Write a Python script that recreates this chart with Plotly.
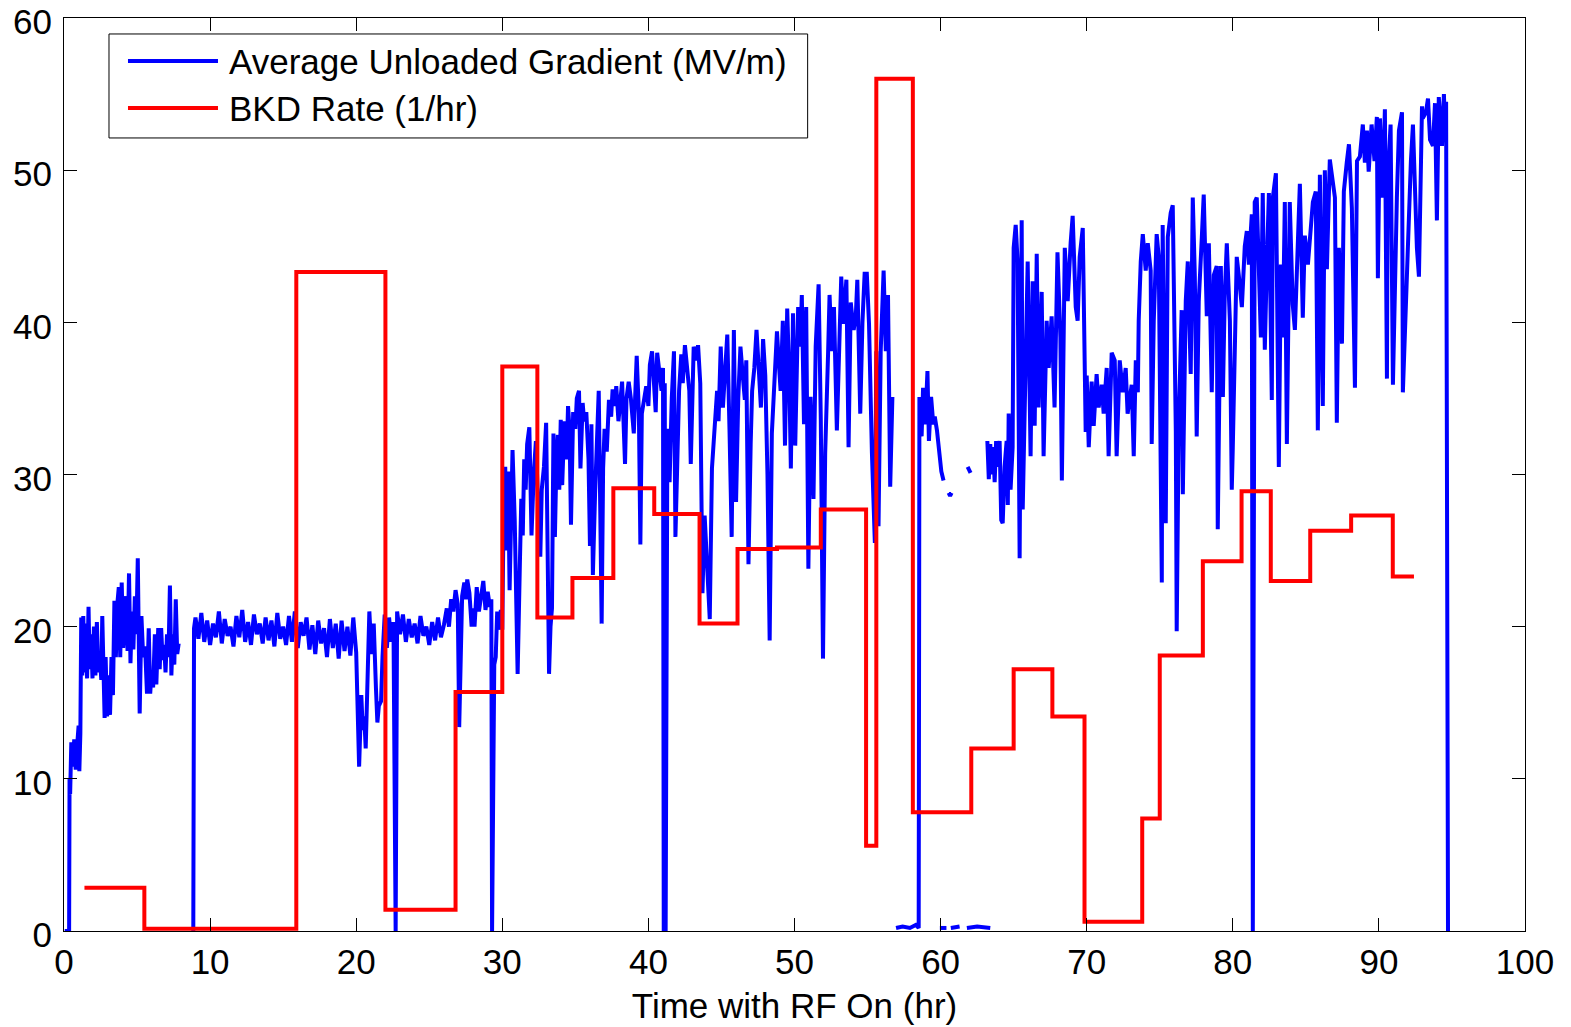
import plotly.graph_objects as go

# ---------------- data ----------------
# Average unloaded gradient (MV/m) vs time with RF on (hr), in pieces
grad_t_1 = [0.05, 0.35, 0.38, 0.42, 0.5, 0.6, 0.7, 0.8, 0.9, 1.0, 1.05, 1.12, 1.18, 1.25, 1.32, 1.4, 1.5, 1.58, 1.68, 1.76,
            1.85, 1.95, 2.05, 2.15, 2.25, 2.35, 2.45, 2.55, 2.62, 2.7, 2.78, 2.85, 2.95, 3.05, 3.15, 3.25, 3.35, 3.45, 3.55, 3.65,
            3.75, 3.85, 3.95, 4.05, 4.15, 4.25, 4.35, 4.45, 4.55, 4.65, 4.75, 4.85, 4.95, 5.05, 5.18, 5.3, 5.42, 5.55, 5.68, 5.8,
            5.9, 6.0, 6.1, 6.22, 6.32, 6.45, 6.55, 6.65, 6.75, 6.85, 6.95, 7.05, 7.15, 7.25, 7.35, 7.45, 7.55, 7.65, 7.75, 7.85]
grad_v_1 = [0, 0, 10.0, 9.0, 12.4, 10.8, 12.6, 10.6, 12.2, 13.5, 10.5, 13.0, 20.6, 16.8, 20.7, 17.0, 20.2, 16.6, 21.3, 17.2,
            19.5, 16.6, 20.0, 16.8, 20.3, 17.0, 18.3, 16.5, 20.7, 17.0, 14.0, 18.0, 14.1, 16.8, 14.2, 18.0, 15.5, 21.7, 18.0, 21.5,
            22.6, 18.0, 22.9, 18.6, 21.0, 22.0, 18.4, 23.5, 17.6, 21.0, 18.5, 22.0, 19.5, 24.5, 14.3, 20.7, 18.0, 18.7, 15.6, 19.9,
            15.6, 17.1, 16.0, 19.5, 16.2, 19.9, 17.2, 19.9, 17.8, 18.8, 17.0, 19.5, 18.0, 22.7, 16.8, 19.5, 17.5, 21.8, 18.2, 18.9]

grad_t_2a = [8.85, 8.9, 9.0, 9.2, 9.4, 9.6, 9.8, 10.0, 10.2, 10.4, 10.6, 10.8, 11.0, 11.2, 11.4, 11.6, 11.8, 12.0, 12.2, 12.4,
             12.6, 12.8, 13.0, 13.2, 13.4, 13.6, 13.8, 14.0, 14.2, 14.4, 14.6, 14.8, 15.0, 15.2, 15.4, 15.6, 15.8, 16.0, 16.2, 16.4,
             16.6, 16.8, 17.0, 17.2, 17.4, 17.6, 17.8, 18.0, 18.2, 18.4, 18.6, 18.8, 19.0, 19.2, 19.4, 19.6, 19.8, 20.0]
grad_v_2a = [0, 19.9, 20.6, 19.2, 20.9, 19.0, 20.4, 18.8, 20.2, 19.3, 21.0, 18.9, 20.5, 19.4, 20.0, 18.7, 20.7, 19.3, 21.1, 19.0,
             20.3, 18.8, 20.8, 19.5, 20.2, 18.9, 20.6, 19.1, 20.4, 18.7, 20.9, 19.2, 20.0, 18.8, 20.7, 19.0, 21.0, 18.6, 20.3, 19.4,
             20.6, 18.5, 20.1, 18.2, 20.4, 18.9, 19.9, 18.0, 20.5, 18.6, 20.2, 17.9, 20.4, 18.4, 20.0, 18.1, 20.6, 18.3]

grad_t_2b = [20.2, 20.35, 20.45, 20.55, 20.65, 20.75, 20.9, 21.05, 21.2, 21.35, 21.45, 21.55, 21.7, 21.8, 21.95, 22.1, 22.25,
             22.4, 22.55, 22.7, 22.8]
grad_v_2b = [10.8, 15.5, 13.2, 14.1, 12.0, 16.5, 21.0, 18.2, 20.2, 16.0, 13.7, 14.8, 15.1, 18.0, 20.8, 18.6, 20.6,
             19.0, 20.3, 0, 21.0]

grad_t_2c = [23.0, 23.2, 23.4, 23.6, 23.8, 24.0, 24.2, 24.4, 24.6, 24.8, 25.0, 25.2, 25.4, 25.6, 25.8, 26.0, 26.2, 26.35, 26.5,
             26.65, 26.8, 26.95, 27.05, 27.15, 27.25, 27.4, 27.5, 27.6, 27.75, 27.9, 28.0, 28.1, 28.25, 28.4, 28.55, 28.7, 28.85,
             29.0, 29.15, 29.25, 29.3, 29.45, 29.55, 29.65, 29.8, 29.9, 30.0]
grad_v_2c = [19.5, 20.8, 19.0, 20.5, 19.3, 20.2, 18.9, 20.7, 19.4, 20.0, 18.8, 20.3, 19.1, 20.6, 19.3, 20.1, 21.2, 20.0, 21.8,
             21.0, 22.4, 21.5, 13.4, 16.7, 22.0, 22.9, 21.8, 23.1, 22.2, 20.0, 21.2, 20.0, 22.6, 21.0, 22.2, 23.0, 21.1,
             22.3, 21.3, 21.8, 0, 17.5, 18.0, 21.0, 19.8, 21.1, 19.8]

grad_t_2d = [30.1, 30.2, 30.3, 30.4, 30.5, 30.6, 30.7, 30.85, 30.95, 31.05, 31.2, 31.3, 31.4, 31.5, 31.6, 31.7, 31.85, 32.0,
             32.15, 32.3, 32.45, 32.6, 32.7, 32.85, 33.0, 33.1, 33.2, 33.3, 33.4, 33.5, 33.6, 33.7, 33.8, 33.9, 34.0, 34.1, 34.25,
             34.4, 34.5, 34.6, 34.7, 34.85, 35.0, 35.1, 35.25, 35.35, 35.5, 35.6, 35.75, 35.9, 36.0, 36.1, 36.2, 36.35, 36.5,
             36.6, 36.7, 36.8, 36.9, 37.0, 37.15, 37.3, 37.45, 37.55, 37.7, 37.8, 37.95, 38.1, 38.2, 38.4, 38.5, 38.65, 38.8,
             39.0, 39.1, 39.2, 39.35, 39.45, 39.55, 39.7, 39.85, 40.0, 40.1, 40.25, 40.35, 40.5, 40.6, 40.75, 40.9, 41.0]
grad_v_2d = [28.6, 30.5, 25.0, 30.2, 22.4, 27.0, 31.6, 27.0, 23.1, 16.9, 24.0, 28.4, 26.0, 31.0, 29.0, 32.0, 33.1, 26.0,
             30.0, 32.2, 28.0, 24.6, 29.0, 30.5, 33.4, 25.0, 16.9, 20.0, 21.2, 32.7, 25.9, 30.7, 32.6, 29.0, 33.6, 29.3, 33.5,
             31.0, 34.5, 33.0, 26.7, 34.1, 33.0, 35.0, 35.5, 30.4, 34.7, 33.5, 34.1, 31.0, 25.3, 33.3, 23.4, 28.7, 33.0,
             35.5, 28.0, 20.2, 30.4, 33.0, 31.5, 34.9, 33.8, 35.6, 34.5, 35.8, 33.5, 35.5, 36.1, 30.7, 35.0, 36.1, 35.0,
             32.7, 36.0, 37.8, 34.0, 25.4, 34.0, 35.0, 35.8, 34.5, 37.2, 38.1, 36.0, 34.1, 38.0, 36.5, 35.5, 37.0]

grad_t_2e = [41.05, 41.12, 41.18, 41.3, 41.45, 41.6, 41.75, 41.85, 42.0, 42.1, 42.25, 42.35, 42.5, 42.65, 42.8, 42.9, 43.0,
             43.1, 43.25, 43.4, 43.55, 43.7, 43.85, 44.0, 44.2, 44.35, 44.5, 44.7, 44.8, 44.95, 45.1, 45.25, 45.4, 45.55, 45.7,
             45.85, 46.0, 46.15, 46.3, 46.45, 46.6, 46.7, 46.85, 47.0, 47.1, 47.25, 47.4, 47.55, 47.7, 47.85, 48.0, 48.15, 48.3,
             48.45, 48.6, 48.8, 48.95, 49.05, 49.2, 49.35, 49.5, 49.65, 49.75, 49.9, 50.05, 50.15, 50.25, 50.4, 50.5, 50.65,
             50.8, 50.95, 51.1, 51.3, 51.45, 51.65, 51.8, 51.95, 52.1, 52.3, 52.4, 52.55, 52.7, 52.9, 53.05, 53.2, 53.35,
             53.55, 53.7, 53.85, 54.05, 54.2, 54.3, 54.5, 54.65, 54.8, 54.95, 55.1, 55.3, 55.5, 55.6, 55.75, 55.9, 56.1,
             56.25, 56.4, 56.55, 56.7]
grad_v_2e = [0, 36.0, 0, 33.0, 29.5, 35.0, 38.1, 25.9, 33.0, 35.5, 37.9, 36.0, 38.5, 37.0, 35.5, 30.7, 36.0,
             38.4, 37.5, 38.5, 36.0, 22.2, 27.3, 24.0, 20.5, 30.4, 33.0, 35.5, 33.5, 38.4, 34.4, 37.0, 39.2, 33.0, 25.9,
             39.5, 28.2, 35.0, 38.4, 36.6, 34.9, 37.5, 24.1, 32.0, 35.5, 37.0, 39.5, 37.0, 34.4, 38.9, 36.5, 30.0, 19.1,
             32.7, 36.0, 39.4, 37.0, 35.5, 40.1, 31.9, 40.9, 36.0, 30.4, 40.6, 31.9, 36.6, 41.0, 38.4, 41.8, 33.3,
             41.0, 23.8, 35.1, 28.4, 38.4, 42.5, 33.6, 17.9, 31.4, 38.0, 41.8, 38.1, 41.0, 32.9, 39.0, 43.0, 39.9,
             42.8, 31.8, 41.3, 39.5, 40.5, 42.8, 34.0, 40.0, 43.2, 43.2, 39.9, 31.4, 25.5, 38.1, 26.6, 38.1, 43.4,
             38.1, 41.8, 29.2, 35.1]

grad_t_3 = [56.95, 57.4, 57.9, 58.3, 58.5, 58.55, 58.7, 58.8, 58.95, 59.1, 59.2, 59.35, 59.5, 59.6, 59.75, 59.9, 60.05, 60.2]
grad_v_3 = [0.2, 0.3, 0.2, 0.4, 0.2, 35.1, 32.5, 35.7, 33.3, 36.8, 32.2, 35.1, 33.3, 33.8, 32.9, 31.4, 30.2, 29.6]

grad_t_dot = [60.55, 60.65, 60.75]
grad_v_dot = [28.8, 28.6, 28.8]
grad_t_dash = [61.85, 62.05]
grad_v_dash = [30.5, 30.1]

grad_t_low1 = [59.95, 60.4]
grad_v_low1 = [0.2, 0.2]
grad_t_low2 = [60.7, 61.3]
grad_v_low2 = [0.2, 0.3]
grad_t_low3 = [61.8, 62.5, 63.4]
grad_v_low3 = [0.2, 0.3, 0.2]

grad_t_4a = [63.2, 63.3, 63.4, 63.5, 63.6, 63.7, 63.8, 63.9, 64.04, 64.15, 64.25, 64.38, 64.52, 64.6, 64.66, 64.79, 64.93,
             65.0, 65.14, 65.27, 65.41, 65.55, 65.62, 65.82, 65.96, 66.16, 66.3, 66.44, 66.58, 66.71, 66.92, 67.05, 67.26,
             67.4, 67.6, 67.8, 68.0, 68.2, 68.3, 68.5, 68.7, 68.9, 69.04, 69.25, 69.38, 69.52, 69.73, 69.93, 70.0, 70.14,
             70.34, 70.48, 70.68, 70.82, 71.03, 71.16, 71.37, 71.5, 71.71, 71.92, 72.05, 72.26, 72.47, 72.67, 72.8, 73.08,
             73.22, 73.36, 73.5, 73.56, 73.7, 73.84, 74.04, 74.18, 74.38, 74.45, 74.59, 74.79, 74.93, 75.14, 75.2, 75.41,
             75.55, 75.75, 75.89, 76.1, 76.16, 76.3, 76.5, 76.58, 76.78, 76.92, 77.12, 77.26, 77.4, 77.53, 77.67, 77.88,
             78.01, 78.22, 78.36, 78.56, 78.7, 78.9, 78.97, 79.18, 79.32, 79.45, 79.59, 79.8, 79.93, 80.0, 80.14, 80.27,
             80.41, 80.55, 80.62, 80.82, 80.96, 81.1, 81.3]
grad_v_4a = [32.2, 29.7, 32.0, 30.0, 31.8, 29.5, 32.2, 30.5, 32.2, 27.0, 26.8, 30.5, 32.2, 28.0, 34.0, 29.0, 31.8,
             44.9, 46.4, 44.0, 24.5, 46.7, 27.7, 38.2, 44.0, 31.2, 42.7, 33.2, 44.5, 34.4, 42.0, 31.2, 40.1,
             37.0, 40.4, 34.4, 44.6, 39.0, 29.6, 44.9, 41.4, 45.2, 47.0, 41.0, 40.1, 44.3, 46.2, 32.8, 36.5, 31.8,
             36.1, 33.2, 36.6, 34.4, 35.9, 34.0, 37.0, 31.2, 38.0, 37.5, 31.2, 37.5, 35.4, 37.0, 34.0, 35.9,
             31.2, 37.5, 35.4, 40.1, 44.0, 45.8, 43.4, 45.2, 43.4, 32.0, 40.1, 45.8, 44.3, 22.9, 46.4, 26.8,
             45.6, 47.2, 47.7, 32.8, 19.7, 33.5, 40.8, 28.7, 41.4, 44.0, 36.6, 48.2, 43.1, 32.5, 41.4, 45.6,
             48.4, 40.4, 45.2, 35.4, 43.1, 43.7, 26.4, 43.7, 35.1, 41.8, 45.2, 40.1, 29.0, 31.8, 37.0, 44.3,
             43.1, 41.6, 41.0, 45.0, 46.0, 43.8, 47.1]

grad_t_4b = [81.37, 81.5, 81.64, 81.78, 81.92, 82.05, 82.19, 82.33, 82.47, 82.67, 82.74, 82.95, 83.08, 83.15, 83.29, 83.42,
             83.56, 83.7, 83.9, 84.1, 84.25, 84.38, 84.59, 84.79, 84.93, 85.14, 85.34, 85.48, 85.68, 85.82, 85.96, 86.16,
             86.3, 86.44, 86.64, 86.85, 86.99, 87.12, 87.26, 87.47, 87.6, 87.8, 87.95, 88.15, 88.36, 88.5, 88.7, 88.9,
             89.04, 89.18, 89.3, 89.5, 89.7, 89.86, 89.93, 90.07, 90.25, 90.41, 90.55, 90.6, 90.8, 90.96, 91.1, 91.23,
             91.37, 91.58, 91.64, 91.85, 91.99, 92.19, 92.33, 92.47, 92.6, 92.74, 92.95, 93.0, 93.22, 93.36, 93.5, 93.7,
             93.84, 93.97, 94.1, 94.32, 94.45, 94.55, 94.6, 94.73]
grad_v_4b = [0, 47.9, 48.2, 43.8, 39.0, 48.5, 38.2, 43.8, 48.5, 34.9, 48.2, 49.8, 39.6, 30.5, 43.8, 39.0,
             47.9, 32.0, 47.9, 41.2, 39.5, 43.0, 49.1, 40.3, 45.7, 43.8, 46.7, 47.9, 48.6, 32.9, 49.7, 34.5,
             50.0, 43.5, 50.7, 49.3, 48.2, 33.4, 44.9, 38.6, 48.6, 50.5, 51.7, 47.5, 35.7, 50.6, 50.9, 53.0,
             50.5, 52.6, 49.9, 53.0, 50.6, 53.5, 42.9, 53.4, 48.2, 54.0, 36.3, 49.3, 53.0, 35.9, 43.8, 48.2,
             52.6, 53.8, 35.4, 41.2, 45.7, 50.6, 53.0, 47.9, 44.9, 43.0, 54.2, 53.4, 53.8, 54.7, 52.0, 51.6,
             54.4, 46.7, 54.8, 51.6, 55.0, 52.0, 54.5, 0]

# BKD rate (1/hr): step start times and levels (last value closes the final step)
bkd_t = [1.4, 5.5, 15.9, 22.0, 26.8, 30.0, 32.4, 34.8, 37.6, 40.4, 43.5, 46.1, 48.8, 51.8, 54.9, 55.6, 58.1, 62.1,
         65.0, 67.65, 69.85, 73.8, 75.0, 77.95, 80.6, 82.6, 85.3, 88.1, 90.95, 92.4]
bkd_v = [2.85, 0.15, 43.3, 1.4, 15.7, 37.1, 20.6, 23.2, 29.1, 27.4, 20.2, 25.1, 25.2, 27.7, 5.6, 56.0, 7.8, 12.0,
         17.2, 14.1, 0.6, 7.4, 18.1, 24.3, 28.9, 23.0, 26.3, 27.3, 23.3, 23.3]

x_ticks = [0, 10, 20, 30, 40, 50, 60, 70, 80, 90, 100]
y_ticks = [0, 10, 20, 30, 40, 50, 60]
legend_names = ["Average Unloaded Gradient (MV/m)", "BKD Rate (1/hr)"]
x_title = "Time with RF On (hr)"


# ---------------- build ----------------
def piece(*parts):
    xs, ys = [], []
    for t, v in parts:
        if len(t) != len(v):
            raise ValueError(f"length mismatch {len(t)} vs {len(v)}")
        xs += list(t)
        ys += list(v)
    return xs, ys


pieces = [
    piece((grad_t_1, grad_v_1)),
    piece((grad_t_2a, grad_v_2a), (grad_t_2b, grad_v_2b), (grad_t_2c, grad_v_2c),
          (grad_t_2d, grad_v_2d), (grad_t_2e, grad_v_2e)),
    piece((grad_t_3, grad_v_3)),
    piece((grad_t_dot, grad_v_dot)),
    piece((grad_t_dash, grad_v_dash)),
    piece((grad_t_low1, grad_v_low1)),
    piece((grad_t_low2, grad_v_low2)),
    piece((grad_t_low3, grad_v_low3)),
    piece((grad_t_4a, grad_v_4a), (grad_t_4b, grad_v_4b)),
]
gx, gy = [], []
for i, (xs, ys) in enumerate(pieces):
    if i:
        gx.append(None)
        gy.append(None)
    gx += xs
    gy += ys
if len(bkd_t) != len(bkd_v):
    raise ValueError("bkd mismatch")

FONT = "Liberation Sans, Arial, Helvetica, sans-serif"
BLUE = "#0000FF"
RED = "#FF0000"
FS = 35
LW = 4

fig = go.Figure()
fig.add_trace(go.Scatter(x=gx, y=gy, mode="lines", name=legend_names[0],
                         line=dict(color=BLUE, width=LW), connectgaps=False, showlegend=False))
fig.add_trace(go.Scatter(x=bkd_t, y=bkd_v, mode="lines", name=legend_names[1],
                         line=dict(color=RED, width=LW, shape="hv"), showlegend=False))

axis_common = dict(showline=True, linecolor="black", linewidth=1, mirror="ticks", ticks="inside",
                   ticklen=13, tickwidth=1, tickcolor="black", showgrid=False, zeroline=False,
                   automargin=False, ticklabeloverflow="allow",
                   tickfont=dict(family=FONT, size=FS, color="black"))
fig.update_xaxes(range=[0, 100], tickmode="array", tickvals=x_ticks, ticktext=[str(v) for v in x_ticks],
                 title=dict(text=x_title, font=dict(family=FONT, size=FS, color="black"), standoff=13),
                 **axis_common)
fig.update_yaxes(range=[0, 60], tickmode="array", tickvals=y_ticks, ticktext=[str(v) for v in y_ticks],
                 ticklabelstandoff=4, ticklabelshift=4, **axis_common)

# legend box drawn in paper coordinates
shapes = [
    dict(type="rect", xref="paper", yref="paper", x0=0.0308, x1=0.509, y0=0.8686, y1=0.9825,
         line=dict(color="black", width=1), fillcolor="white", layer="above"),
    dict(type="line", xref="paper", yref="paper", x0=0.0438, x1=0.1054, y0=0.9529, y1=0.9529,
         line=dict(color=BLUE, width=LW), layer="above"),
    dict(type="line", xref="paper", yref="paper", x0=0.0438, x1=0.1054, y0=0.9014, y1=0.9014,
         line=dict(color=RED, width=LW), layer="above"),
]
annotations = [
    dict(xref="paper", yref="paper", x=0.1116, y=0.9528, text=legend_names[0], showarrow=False,
         xanchor="left", yanchor="middle", font=dict(family=FONT, size=FS, color="black")),
    dict(xref="paper", yref="paper", x=0.1116, y=0.9013, text=legend_names[1], showarrow=False,
         xanchor="left", yanchor="middle", font=dict(family=FONT, size=FS, color="black")),
]

# the page body adds an 8 px offset, so the figure is 8 px smaller and margins compensate
fig.update_layout(width=1563, height=1019, margin=dict(l=56, r=46, t=10, b=96, autoexpand=False),
                  paper_bgcolor="white", plot_bgcolor="white", showlegend=False,
                  font=dict(family=FONT, size=FS, color="black"),
                  shapes=shapes, annotations=annotations)

fig.write_html("out.html")
